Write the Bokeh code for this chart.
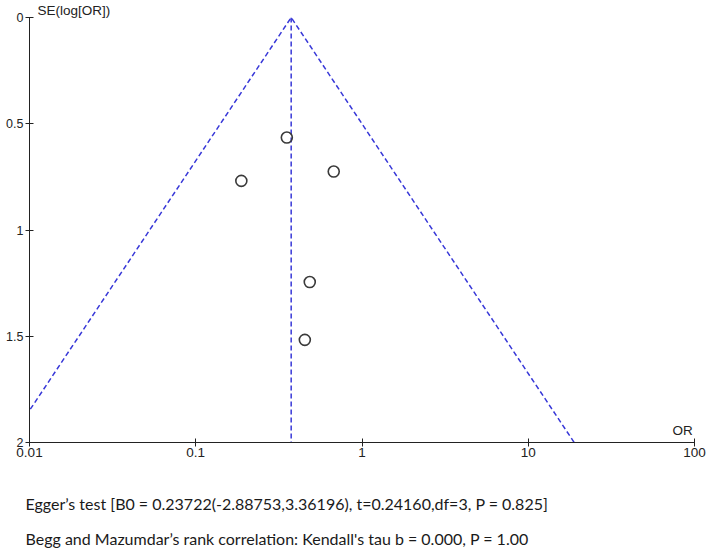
import numpy as np
from bokeh.plotting import figure
from bokeh.layouts import column
from bokeh.models import Range1d, FixedTicker, CustomJSTickFormatter, Label, Title, ColumnDataSource
from bokeh.embed import file_html
from bokeh.resources import INLINE

# --- data ---
study_or = [0.353, 0.188, 0.676, 0.485, 0.453]
study_se = [0.565, 0.769, 0.725, 1.245, 1.517]
pooled_or = 0.375
se_max = 2.0
x_ticks = [0.01, 0.1, 1, 10, 100]
y_ticks = [0, 0.5, 1, 1.5, 2]
egger_text = "Egger\u2019s test [B0 = 0.23722(-2.88753,3.36196), t=0.24160,df=3, P = 0.825]"
begg_text = "Begg and Mazumdar\u2019s rank correlation: Kendall's tau b = 0.000, P = 1.00"

AX_FONT = "Liberation Sans"
TXT_FONT = "Lato"
BLUE = "#3838d8"

p = figure(width=708, height=465, output_backend="svg", toolbar_location=None,
           x_axis_type="log", x_range=Range1d(0.01, 100), y_range=Range1d(2, 0),
           min_border_left=29, min_border_right=14, min_border_top=17, min_border_bottom=23)
p.xgrid.visible = False
p.ygrid.visible = False
p.outline_line_color = None
p.background_fill_color = "white"
p.border_fill_color = "white"

# funnel
lo = pooled_or * np.exp(-1.96 * se_max)
hi = pooled_or * np.exp(1.96 * se_max)
funnel = ColumnDataSource(dict(x=[lo, pooled_or, hi], y=[se_max, 0, se_max]))
p.line("x", "y", source=funnel, line_color=BLUE, line_dash="5 3", line_width=1.5)
p.line(x=[pooled_or, pooled_or], y=[0, se_max], line_color=BLUE, line_dash="5 3", line_width=1.5)

src = ColumnDataSource(dict(x=study_or, y=study_se))
p.scatter("x", "y", source=src, marker="circle", size=11, fill_color=None,
          line_color="#3a3a3a", line_width=1.6)

for ax, ticks in ((p.xaxis[0], x_ticks), (p.yaxis[0], y_ticks)):
    ax.ticker = FixedTicker(ticks=ticks)
    ax.formatter = CustomJSTickFormatter(code="return String(tick);")
    ax.minor_tick_line_color = None
    ax.major_tick_in = 4
    ax.major_tick_out = 4
    ax.axis_line_color = "#222222"
    ax.major_tick_line_color = "#222222"
    ax.major_label_text_font = AX_FONT
    ax.major_label_text_color = "#222222"

p.xaxis.major_label_text_font_size = "13.5px"
p.xaxis.major_label_standoff = 1
p.yaxis.major_label_text_font_size = "12.5px"
p.yaxis.major_label_standoff = 2

p.add_layout(Title(text="SE(log[OR])", align="left", offset=8, standoff=0,
                   text_font=AX_FONT, text_font_size="13.5px", text_font_style="normal",
                   text_color="#222222"), "above")
p.add_layout(Label(x=653, y=12, x_units="screen", y_units="screen", text="OR",
                   text_font=AX_FONT, text_font_size="13.5px", text_color="#222222",
                   text_baseline="middle", text_align="center"))

# statistics text panel below the plot
t = figure(width=708, height=92, output_backend="svg", toolbar_location=None,
           x_range=Range1d(0, 1), y_range=Range1d(0, 1),
           x_axis_location=None, y_axis_location=None,
           min_border=0, min_border_left=0, min_border_right=0,
           min_border_top=0, min_border_bottom=0)
t.frame_align = False
t.grid.visible = False
t.outline_line_color = None
t.background_fill_color = "white"
t.border_fill_color = "white"
t.add_layout(Label(x=25, y=54, x_units="screen", y_units="screen", text=egger_text,
                   text_font=TXT_FONT, text_font_size="16px", text_color="#1a1a1a",
                   text_baseline="middle", text_align="left"))
t.add_layout(Label(x=25, y=19, x_units="screen", y_units="screen", text=begg_text,
                   text_font=TXT_FONT, text_font_size="16px", text_color="#1a1a1a",
                   text_baseline="middle", text_align="left"))

open("out.html", "w").write(file_html(column(p, t, spacing=0), INLINE))
